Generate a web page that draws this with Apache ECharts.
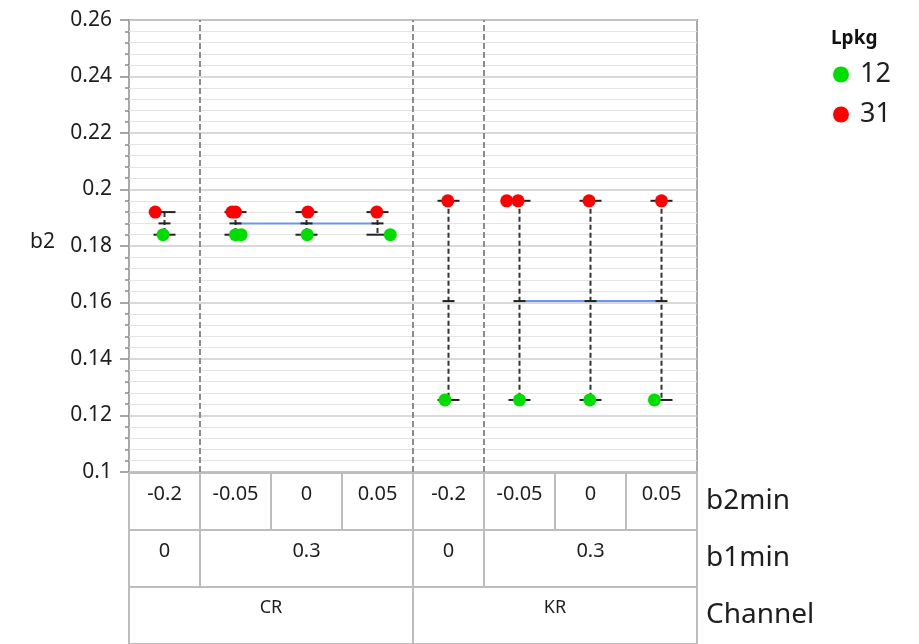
<!DOCTYPE html>
<html>
<head>
<meta charset="utf-8">
<title>b2 variability chart</title>
<script src="https://cdn.jsdelivr.net/npm/echarts@6/dist/echarts.min.js"></script>
<style>
  html, body { margin: 0; padding: 0; background: #fff; }
  #main { width: 919px; height: 644px; }
</style>
</head>
<body>
<div id="main"></div>
<script>
// x-axis levels (one cell per b2min value)
var b2min = ['-0.2', '-0.05', '0', '0.05', '-0.2', '-0.05', '0', '0.05'];
var b1minLabels = ['0', '0.3', '0', '0.3'];
var b1minSpan = [1, 3, 1, 3];
var channelLabels = ['CR', 'KR'];
var channelSpan = [4, 4];

// range bars per cell
var cellHigh = [0.192, 0.192, 0.192, 0.192, 0.196, 0.196, 0.196, 0.196];
var cellMean = [0.188, 0.188, 0.188, 0.188, 0.1605, 0.1605, 0.1605, 0.1605];
var cellLow = [0.184, 0.184, 0.184, 0.184, 0.1255, 0.1255, 0.1255, 0.1255];

// points (x = cell index + position inside the cell)
var lpkg12X = [0.48, 1.50, 1.58, 2.51, 3.68, 4.45, 5.50, 6.49, 7.40];
var lpkg12Y = [0.184, 0.184, 0.184, 0.184, 0.184, 0.1255, 0.1255, 0.1255, 0.1255];
var lpkg31X = [0.37, 1.45, 1.50, 2.52, 3.49, 4.49, 5.32, 5.48, 6.48, 7.50];
var lpkg31Y = [0.192, 0.192, 0.192, 0.192, 0.192, 0.196, 0.196, 0.196, 0.196, 0.196];

var yTicks = [0.1, 0.12, 0.14, 0.16, 0.18, 0.2, 0.22, 0.24, 0.26];

function zip(xs, ys) {
    return xs.map(function (x, i) { return [x, ys[i]]; });
}

// table cells: [start, end, row]
var tableCells = [], tableText = [];
b2min.forEach(function (t, i) { tableCells.push([i, i + 1, 0]); tableText.push(t); });
var pos = 0, sepLines = [], meanLines = [];
b1minLabels.forEach(function (t, i) {
    tableCells.push([pos, pos + b1minSpan[i], 1]); tableText.push(t);
    if (b1minSpan[i] > 1) {
        meanLines.push([[pos + 0.5, cellMean[pos]], [pos + b1minSpan[i] - 0.5, cellMean[pos + b1minSpan[i] - 1]]]);
    }
    pos += b1minSpan[i];
    if (pos < b2min.length) sepLines.push({ xAxis: pos });
});
pos = 0;
channelLabels.forEach(function (t, i) {
    tableCells.push([pos, pos + channelSpan[i], 2]); tableText.push(t);
    pos += channelSpan[i];
});

var barData = cellHigh.map(function (h, i) { return [i + 0.5, h, cellMean[i], cellLow[i]]; });

var chart = echarts.init(document.getElementById('main'));

var txtColor = '#1e1e1e';
var font = '"Segoe UI", "Noto Sans", sans-serif';

var series = [
    {
        name: 'sep',
        type: 'line',
        xAxisIndex: 0, yAxisIndex: 0,
        data: [],
        silent: true,
        markLine: {
            symbol: 'none',
            silent: true,
            label: { show: false },
            lineStyle: { color: '#8c8c8c', type: [6, 3], width: 2 },
            data: sepLines
        }
    },
    {
        name: 'range',
        type: 'custom',
        xAxisIndex: 0, yAxisIndex: 0,
        silent: true,
        z: 3,
        data: barData,
        renderItem: function (params, api) {
            var x = api.coord([api.value(0), api.value(1)])[0];
            var yH = api.coord([0, api.value(1)])[1];
            var yM = api.coord([0, api.value(2)])[1];
            var yL = api.coord([0, api.value(3)])[1];
            var st = { stroke: '#222', lineWidth: 2 };
            return {
                type: 'group',
                children: [
                    { type: 'line', shape: { x1: x, y1: yH, x2: x, y2: yL }, style: { stroke: '#333', lineWidth: 2, lineDash: [5, 3] } },
                    { type: 'line', shape: { x1: x - 11, y1: yH, x2: x + 11, y2: yH }, style: st },
                    { type: 'line', shape: { x1: x - 6, y1: yM, x2: x + 6, y2: yM }, style: st },
                    { type: 'line', shape: { x1: x - 11, y1: yL, x2: x + 11, y2: yL }, style: st }
                ]
            };
        }
    }
];

meanLines.forEach(function (seg) {
    series.push({
        name: 'mean',
        type: 'line',
        xAxisIndex: 0, yAxisIndex: 0,
        data: seg,
        symbol: 'none',
        silent: true,
        z: 2,
        lineStyle: { color: '#6f95ea', width: 2 }
    });
});

series.push({
    name: '12',
    type: 'scatter',
    xAxisIndex: 0, yAxisIndex: 0,
    data: zip(lpkg12X, lpkg12Y),
    symbolSize: 13,
    z: 5,
    itemStyle: { color: '#00dd00', opacity: 1 }
});
series.push({
    name: '31',
    type: 'scatter',
    xAxisIndex: 0, yAxisIndex: 0,
    data: zip(lpkg31X, lpkg31Y),
    symbolSize: 13,
    z: 5,
    itemStyle: { color: '#ff0000', opacity: 1 }
});

series.push({
    name: 'table',
    type: 'custom',
    xAxisIndex: 1, yAxisIndex: 1,
    silent: true,
    encode: { x: [0, 1], y: 2 },
    data: tableCells,
    renderItem: function (params, api) {
        var p0 = api.coord([api.value(0), api.value(2)]);
        var p1 = api.coord([api.value(1), api.value(2)]);
        var h = api.size([0, 1])[1];
        var top = p0[1] - h / 2;
        var row = api.value(2);
        return {
            type: 'group',
            children: [
                { type: 'rect', shape: { x: p0[0], y: top, width: p1[0] - p0[0], height: h },
                  style: { fill: 'none', stroke: '#bdbdbd', lineWidth: 2 } },
                { type: 'text', x: (p0[0] + p1[0]) / 2, y: top + 21,
                  style: { text: tableText[params.dataIndex], fill: txtColor,
                           font: (row === 2 ? 18 : 20) + 'px ' + font,
                           align: 'center', verticalAlign: 'middle' } }
            ]
        };
    }
});

chart.setOption({
    animation: false,
    backgroundColor: '#fff',
    title: {
        text: 'Lpkg',
        left: 826, top: 24,
        textStyle: { fontSize: 19, fontWeight: 'bold', color: '#111', fontFamily: font }
    },
    legend: {
        orient: 'vertical',
        left: 828, top: 56,
        data: ['12', '31'],
        icon: 'circle',
        itemWidth: 16, itemHeight: 16,
        itemGap: 13,
        textStyle: { fontSize: 27, color: txtColor, fontFamily: font, padding: [0, 0, 0, 6] }
    },
    graphic: [
        { type: 'text', left: 30, top: 232, style: { text: 'b2', font: '21px ' + font, fill: txtColor } }
    ],
    grid: [
        { left: 129, right: 222, top: 20, height: 452, show: true, borderColor: '#a9a9a9', borderWidth: 2 },
        { left: 129, right: 222, top: 473, height: 174 }
    ],
    xAxis: [
        { type: 'value', gridIndex: 0, min: 0, max: b2min.length, show: false },
        { type: 'value', gridIndex: 1, min: 0, max: b2min.length, show: false }
    ],
    yAxis: [
        {
            type: 'value', gridIndex: 0,
            min: yTicks[0], max: yTicks[yTicks.length - 1], interval: 0.02,
            offset: 5,
            axisLine: { show: false },
            axisTick: { show: true, length: 9, lineStyle: { color: '#8a8a8a', width: 1.5 } },
            minorTick: { show: true, splitNumber: 5, length: 4, lineStyle: { color: '#8a8a8a', width: 1.5 } },
            axisLabel: { fontSize: 21, color: txtColor, margin: 12, fontFamily: font },
            splitLine: { show: true, lineStyle: { color: '#cccccc', width: 1.5 } },
            minorSplitLine: { show: true, lineStyle: { color: '#e4e4e4', width: 1 } }
        },
        {
            type: 'category', gridIndex: 1,
            data: ['b2min', 'b1min', 'Channel'],
            inverse: true,
            position: 'right',
            axisLine: { show: false },
            axisTick: { show: false },
            axisLabel: { fontSize: 28, color: txtColor, margin: 9, align: 'left', fontFamily: font }
        }
    ],
    series: series
});
</script>
</body>
</html>
